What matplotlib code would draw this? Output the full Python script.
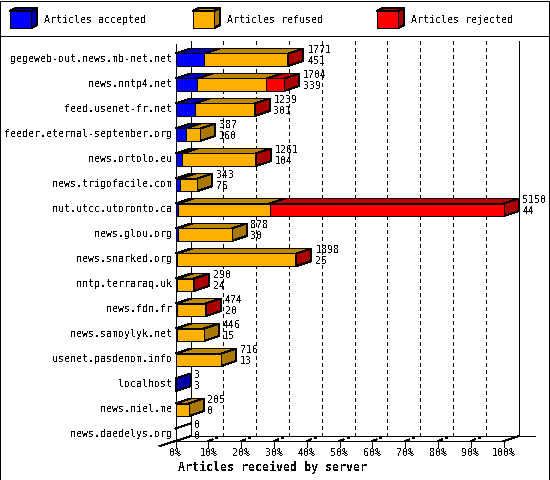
import matplotlib
matplotlib.use("Agg")
import matplotlib.pyplot as plt
from matplotlib.patches import Polygon, Rectangle
from matplotlib.transforms import IdentityTransform

servers = ["gegeweb-out.news.mb-net.net", "news.nntp4.net", "feed.usenet-fr.net",
           "feeder.eternal-september.org", "news.ortolo.eu", "news.trigofacile.com",
           "nut.utcc.utoronto.ca", "news.glou.org", "news.snarked.org", "nntp.terraraq.uk",
           "news.fdn.fr", "news.samoylyk.net", "usenet.pasdenom.info", "localhost",
           "news.niel.me", "news.daedelys.org"]
accepted = [451, 339, 301, 160, 104, 76, 44, 30, 25, 24, 20, 15, 13, 3, 0, 0]
refused = [1319, 1085, 937, 227, 1156, 267, 1432, 848, 1872, 265, 453, 431, 703, 0, 205, 0]
rejected = [1, 280, 1, 0, 1, 0, 3674, 0, 1, 1, 1, 0, 0, 0, 0, 0]
totals = [1771, 1704, 1239, 387, 1261, 343, 5150, 878, 1898, 290, 474, 446, 716, 3, 205, 0]
max_total = 5150

legend_names = ["Articles accepted", "Articles refused", "Articles rejected"]
pct_ticks = [0, 10, 20, 30, 40, 50, 60, 70, 80, 90, 100]

plt.rcParams["font.family"] = "DejaVu Sans Mono"
plt.rcParams["font.size"] = 7.2
plt.rcParams["text.antialiased"] = False

W, H = 550, 480
DX, DY = 15, 5          # depth of the 3d effect
LW = 0.72               # one pixel at 100 dpi
BLUE = ("#0000ff", "#0000aa", "#0000bb")
ORANGE = ("#ffb000", "#aa7700", "#bb8800")
RED = ("#ff0000", "#aa0000", "#bb0000")

fig = plt.figure(figsize=(W / 100, H / 100), dpi=100)
fig.patch.set_facecolor("white")

# axes = front plane of the chart
ax = fig.add_axes([175.6 / W, 1 - 441 / H, 328 / W, 400 / H])
ax.set_xlim(0, max_total)
ax.set_ylim(len(servers), 0)
ax.axis("off")


def px(x, y):
    return ax.transData.transform((x, y))


def poly(points, color, z=3):
    fig.add_artist(Polygon(points, closed=True, facecolor=color, edgecolor="black", linewidth=LW,
                           antialiased=False, transform=IdentityTransform(), zorder=z,
                           clip_on=False))


def line(a, b, dashed=False, z=2):
    ln = plt.Line2D([a[0], b[0]], [a[1], b[1]], color="black", linewidth=LW, antialiased=False,
                    transform=IdentityTransform(), zorder=z)
    if dashed:
        ln.set_dashes((4, 4))
    fig.add_artist(ln)


def box(x0, x1, row, colors, last, z):
    tl_pt, br_pt = px(x0, row + 0.5), px(x1, row + 1.0)
    a = (tl_pt[0], tl_pt[1])
    b = (br_pt[0], tl_pt[1])
    c = (br_pt[0], br_pt[1])
    d = (tl_pt[0], br_pt[1])
    poly([a, b, (b[0] + DX, b[1] + DY), (a[0] + DX, a[1] + DY)], colors[2], z=z)
    if last:
        poly([b, c, (c[0] + DX, c[1] + DY), (b[0] + DX, b[1] + DY)], colors[1], z=z)
    poly([a, b, c, d], colors[0], z=z)


# back plane and floor
bl = px(0, 16)
br = px(max_total, 16)
tl = px(0, 0)
back_l = (bl[0] + DX, bl[1] + DY)
back_r = (br[0] + DX, br[1] + DY)
line((tl[0], tl[1] - 3), bl, z=4)
line((back_l[0], tl[1]), back_l)
line((back_r[0], tl[1]), back_r)
line(bl, br, z=6)
line(back_l, (back_r[0] + 16, back_r[1]))
line(br, back_r)
line(bl, (bl[0] - 16, bl[1] - 5))
line(bl, back_l)

for t in pct_ticks:
    p = px(max_total * t / 100, 16)
    line(p, (p[0], p[1] - 6), z=6)
    if t not in (0, 100):
        line((p[0] + DX, p[1] + DY), (p[0] + DX, tl[1]), dashed=True)
        line(p, (p[0] + 4, p[1] + 1.5))
        fig.add_artist(Rectangle((p[0] + 7, p[1] + 2), 3, 2, facecolor="black", edgecolor="none",
                                 transform=IdentityTransform(), antialiased=False))
    ax.text(t / 100 * max_total, 16.48, f"{t}%", ha="center", va="center", clip_on=False)

# one row of stacked boxes per server, lower rows overlap the ones above
for i, name in enumerate(servers):
    ax.text(-3.6 * max_total / 328, i + 0.72, name, ha="right", va="center", clip_on=False)
    vals = [(accepted[i], BLUE), (refused[i], ORANGE), (rejected[i], RED)]
    shown = [v for v in vals if v[0] > 0]
    left = 0
    for j, (v, colors) in enumerate(shown):
        box(left, left + v, i, colors, j == len(shown) - 1, z=10 + i)
        left += v
    if not shown:
        p0 = px(0, i + 0.5)
        line(p0, (p0[0] + DX, p0[1] + DY))
    tip = totals[i] + 19 * max_total / 328
    ax.text(tip, i + 0.36, str(totals[i]), ha="left", va="center", clip_on=False, zorder=40)
    ax.text(tip, i + 0.8, str(accepted[i]), ha="left", va="center", clip_on=False, zorder=40)

# legend
lx = [10, 193, 377]
for x, colors, name in zip(lx, (BLUE, ORANGE, RED), legend_names):
    y0, y1 = H - 28, H - 11
    w = 21
    d = 6
    poly([(x, y1), (x + d, y1 + 3), (x + w + d, y1 + 3), (x + w, y1)], colors[2], z=5)
    poly([(x + w, y0), (x + w + d, y0 + 3), (x + w + d, y1 + 3), (x + w, y1)], colors[1], z=5)
    poly([(x, y0), (x + w, y0), (x + w, y1), (x, y1)], colors[0], z=5)
    fig.text((x + 34) / W, 1 - 20 / H, name, ha="left", va="center")

# outer frame and separator
fig.add_artist(Rectangle((0, 0), W - 1, H - 1, facecolor="none", edgecolor="black", linewidth=LW,
                         transform=IdentityTransform(), antialiased=False, zorder=50))
line((0, H - 36), (W, H - 36), z=50)

ax.text(max_total * 0.295, 17.04, "Articles received by server", fontweight="bold", fontsize=8.4,
        ha="center", va="center", clip_on=False)

fig.savefig("out.png", dpi=100, facecolor="white")
